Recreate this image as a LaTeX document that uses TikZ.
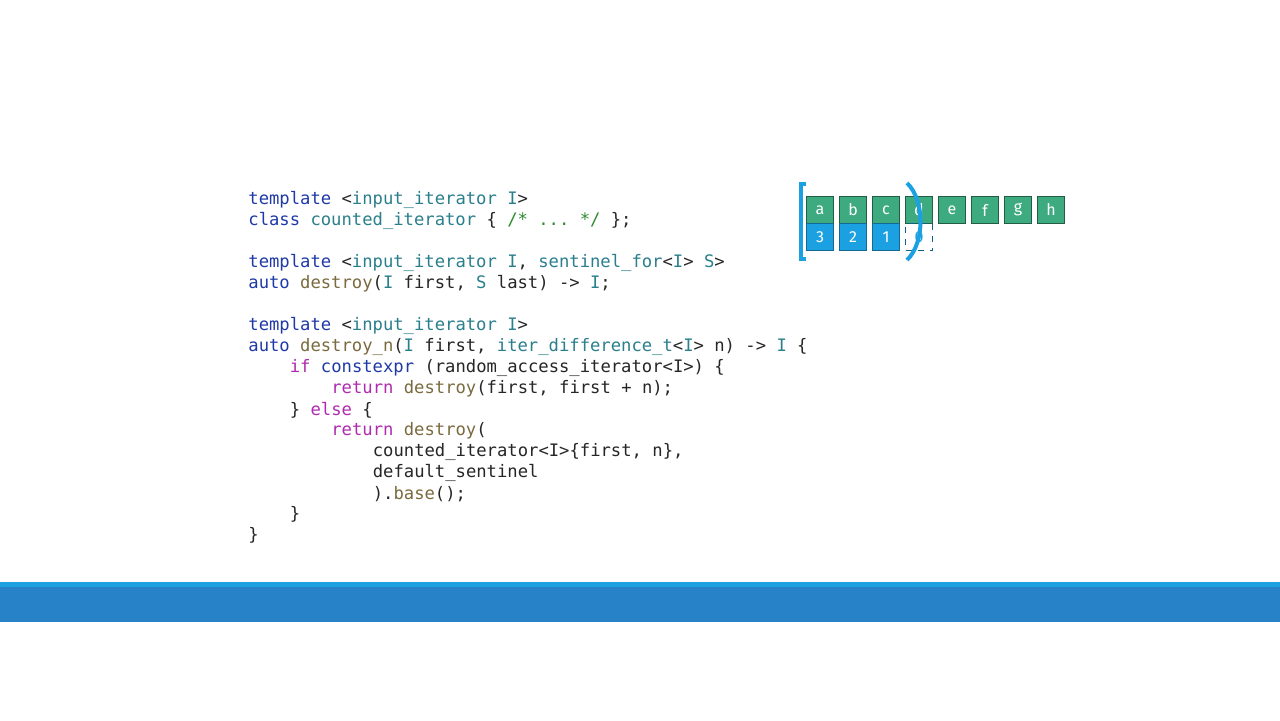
\documentclass[tikz,border=0pt]{standalone}
\usepackage{fontspec}
\setmonofont{DejaVu Sans Mono}
\setsansfont{Fira Sans}
\definecolor{kw}{HTML}{1F3AA8}
\definecolor{ty}{HTML}{2A7F8C}
\definecolor{fn}{HTML}{7A6A3E}
\definecolor{ct}{HTML}{B02AB0}
\definecolor{cm}{HTML}{2E8B2E}
\definecolor{cellg}{HTML}{3DAA80}
\definecolor{cellb}{HTML}{1BA1E2}
\definecolor{band}{HTML}{2882C8}
\definecolor{bandtop}{HTML}{1DA1E0}
\newcommand{\K}[1]{\textcolor{kw}{#1}}
\newcommand{\T}[1]{\textcolor{ty}{#1}}
\newcommand{\F}[1]{\textcolor{fn}{#1}}
\newcommand{\C}[1]{\textcolor{ct}{#1}}
\newcommand{\M}[1]{\textcolor{cm}{#1}}
\begin{document}
\begin{tikzpicture}[x=0.5pt,y=-0.5pt,
  code/.style={anchor=west,inner sep=0pt,font=\ttfamily\fontsize{8.6}{10}\selectfont,text=black!85},
  gcell/.style={draw=black!45!cellg,fill=cellg,line width=0.5pt,minimum width=13.5pt,minimum height=13.5pt,inner sep=0pt,text=white,font=\sffamily\fontsize{8}{9}\selectfont},
  bcell/.style={gcell,draw=black!35!cellb,fill=cellb},
  dcell/.style={gcell,draw=black!40!cellb,fill=none,dashed,text=cellb}]
\useasboundingbox (0,0) rectangle (1280,720);
\fill[white] (0,0) rectangle (1280,720);
\fill[bandtop] (0,582) rectangle (1280,587);
\fill[band] (0,587) rectangle (1280,622);
\def\cw{10.37}
\node[code] (l1) at (248,200) {\K{template} <\T{input\_iterator} \T{I}>};
\node[code] (l2) at (248,221) {\K{class} \T{counted\_iterator} \{ \M{/* ... */} \};};
\node[code] (l3) at (248,263) {\K{template} <\T{input\_iterator} \T{I}, \T{sentinel\_for}<\T{I}> \T{S}>};
\node[code] (l4) at (248,284) {\K{auto} \F{destroy}(\T{I} first, \T{S} last) -> \T{I};};
\node[code] (l5) at (248,326) {\K{template} <\T{input\_iterator} \T{I}>};
\node[code] (l6) at (248,347) {\K{auto} \F{destroy\_n}(\T{I} first, \T{iter\_difference\_t}<\T{I}> n) -> \T{I} \{};
\node[code] (l7) at (248+4*\cw,368) {\C{if} \K{constexpr} (random\_access\_iterator<I>) \{};
\node[code] (l8) at (248+8*\cw,389) {\C{return} \F{destroy}(first, first + n);};
\node[code] (l9) at (248+4*\cw,410) {\} \C{else} \{};
\node[code] (l10) at (248+8*\cw,431) {\C{return} \F{destroy}(};
\node[code] (l11) at (248+12*\cw,452) {counted\_iterator<I>\{first, n\},};
\node[code] (l12) at (248+12*\cw,473) {default\_sentinel};
\node[code] (l13) at (248+12*\cw,494) {).\F{base}();};
\node[code] (l14) at (248+4*\cw,514) {\}};
\node[code] (l15) at (248,535) {\}};
% cells
\foreach \l [count=\i from 0] in {a,b,c,d,e,f,g,h}
  \node[gcell] (g\l) at (820+\i*33,210) {\l};
\node[bcell] (n3) at (820,237) {3};
\node[bcell] (n2) at (853,237) {2};
\node[bcell] (n1) at (886,237) {1};
\node[dcell] (n0) at (919,237) {0};
\draw[cellb,line width=1.6pt] (806,184) -- (801,184) -- (801,259) -- (806,259);
\draw[cellb,line width=2pt] (907,183) .. controls (925,200) and (925,243) .. (907,260);
\end{tikzpicture}
\end{document}
